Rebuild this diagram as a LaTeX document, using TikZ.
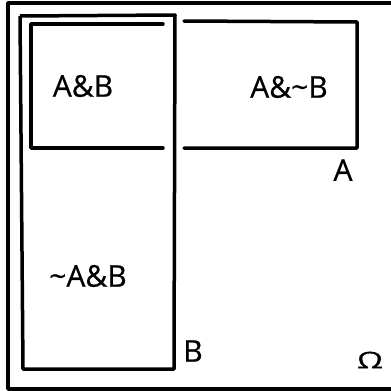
\documentclass[tikz,border=0pt]{standalone}
\usepackage{fontspec}
\setmainfont{Open Sans}
\newfontfamily\lblfont{Open Sans}[FakeBold=0.6]
\usetikzlibrary{arrows,shapes,positioning}

\begin{document}
\begin{tikzpicture}[x=1pt,y=-1pt]
\clip (0,0) rectangle (391,391);
\tikzset{lbl/.style={font=\lblfont\fontsize{30}{36}\selectfont}}

% cadre omega
\draw[black, line width=3.5, line join=round] (396,3) -- (8,3) -- (8,389) -- (396,389) ;

% cadre B
\draw[black, line width=3.5, line join=round] (20,16) -- (175,15) -- (174,369) -- (23,369) -- (20,16) ;

% cadre A (coupe par B)
\draw[black, line width=3.5, line join=round, line cap=round] (163,24) -- (31,24) -- (31,148) -- (163,148) ;
\draw[black, line width=3.5, line join=round, line cap=round] (184,21) -- (357,22) -- (357,148) -- (184,148) ;

% regions
\node[lbl] (AB) at(83,86) {A\&B};
\node[lbl] (AnotB) at(289,87) {A\&\textasciitilde B};
\node[lbl] (notAB) at(88,276) {\textasciitilde A\&B};

% ensembles
\node[lbl] (A) at(343,170) {A};
\node[lbl] (B) at(193,351) {B};
\node[xscale=1.45, transform shape, font=\lblfont\fontsize{23}{28}\selectfont] (Omega) at(370,360) {Ω};

\end{tikzpicture}
\end{document}
